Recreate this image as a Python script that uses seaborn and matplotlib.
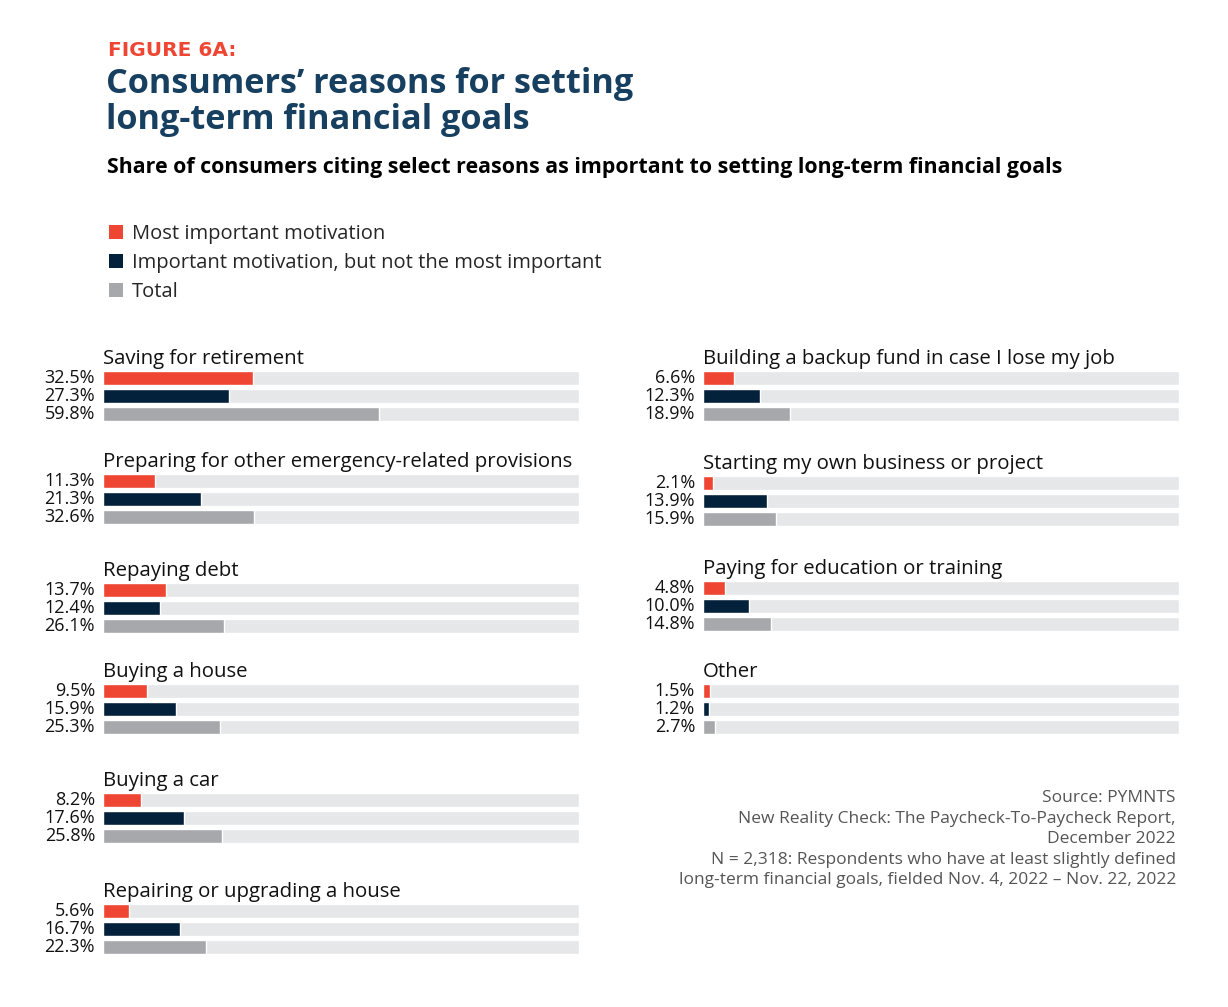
import matplotlib
matplotlib.use("Agg")
import matplotlib.pyplot as plt
import matplotlib.transforms as mtransforms
from matplotlib.patches import Patch
import pandas as pd
import seaborn as sns

# chart data
left_reasons = ["Saving for retirement", "Preparing for other emergency-related provisions",
                "Repaying debt", "Buying a house", "Buying a car", "Repairing or upgrading a house"]
left_most = [32.5, 11.3, 13.7, 9.5, 8.2, 5.6]
left_important = [27.3, 21.3, 12.4, 15.9, 17.6, 16.7]
left_total = [59.8, 32.6, 26.1, 25.3, 25.8, 22.3]

right_reasons = ["Building a backup fund in case I lose my job", "Starting my own business or project",
                 "Paying for education or training", "Other"]
right_most = [6.6, 2.1, 4.8, 1.5]
right_important = [12.3, 13.9, 10.0, 1.2]
right_total = [18.9, 15.9, 14.8, 2.7]

series = ["Most important motivation", "Important motivation, but not the most important", "Total"]

# styling
RED = "#EF4533"
NAVY = "#04213B"
GRAY = "#A7A8AC"
TRACK = "#E6E7E8"
TITLE_BLUE = "#173F5F"
TRACK_MAX = 103

sns.set_theme(style="white")
plt.rcParams["font.family"] = ["Open Sans", "DejaVu Sans"]

W, H = 1228, 1007
fig = plt.figure(figsize=(W / 100, H / 100), dpi=100)
fig.patch.set_facecolor("white")


def fx(x):
    return x / W


def fy(y):
    return 1 - y / H


# header
fig.text(fx(108), fy(51), "FIGURE 6A:", color=RED, fontsize=14.5, fontweight="bold",
         va="center", ha="left", family=["DejaVu Sans"])
fig.text(fx(106), fy(84), "Consumers’ reasons for setting", color=TITLE_BLUE, fontsize=24.7,
         fontweight="bold", va="center", ha="left")
fig.text(fx(106), fy(120), "long-term financial goals", color=TITLE_BLUE, fontsize=24.7,
         fontweight="bold", va="center", ha="left")
fig.text(fx(107), fy(167),
         "Share of consumers citing select reasons as important to setting long-term financial goals",
         color="black", fontsize=15.4, fontweight="bold", va="center", ha="left")

# legend
handles = [Patch(facecolor=c, edgecolor="none") for c in [RED, NAVY, GRAY]]
fig.legend(handles, series, loc="upper left", bbox_to_anchor=(fx(101), fy(216)),
           frameon=False, fontsize=14.5, handlelength=0.7, handleheight=0.7,
           handletextpad=0.45, labelspacing=0.45, borderaxespad=0)


def draw_group(x0, center, reason, most, important, total):
    ax = fig.add_axes([fx(x0), fy(center - 9 + 54), fx(476), 54 / H])
    df = pd.DataFrame({"series": series, "value": [most, important, total]})
    sns.barplot(data=df, x=[TRACK_MAX] * 3, y="series", color=TRACK, width=0.78,
                saturation=1, ax=ax)
    sns.barplot(data=df, x="value", y="series", hue="series", palette=[RED, NAVY, GRAY],
                width=0.78, saturation=1, legend=False, ax=ax)
    ax.set_xlim(0, TRACK_MAX)
    ax.set_ylim(2.5, -0.5)
    ax.axis("off")
    trans = mtransforms.blended_transform_factory(ax.transAxes, ax.transData)
    for i, v in enumerate([most, important, total]):
        ax.text(-8 / 476, i, f"{v:.1f}%", transform=trans, ha="right", va="center",
                fontsize=13, color="#111111")
    fig.text(fx(x0), fy(center - 14), reason, ha="left", va="baseline",
             fontsize=14.7, color="#111111")


left_centers = [378, 481, 590, 691, 800, 911]
right_centers = [378, 483, 588, 691]

for i, r in enumerate(left_reasons):
    draw_group(103, left_centers[i], r, left_most[i], left_important[i], left_total[i])

for i, r in enumerate(right_reasons):
    draw_group(703, right_centers[i], r, right_most[i], right_important[i], right_total[i])

# source note
fig.text(fx(1176), fy(790),
         "Source: PYMNTS\nNew Reality Check: The Paycheck-To-Paycheck Report,\nDecember 2022\n"
         "N = 2,318: Respondents who have at least slightly defined\n"
         "long-term financial goals, fielded Nov. 4, 2022 – Nov. 22, 2022",
         ha="right", va="top", multialignment="right", fontsize=12.5, color="#555555",
         linespacing=1.38)

fig.savefig("out.png", dpi=100, facecolor="white")
